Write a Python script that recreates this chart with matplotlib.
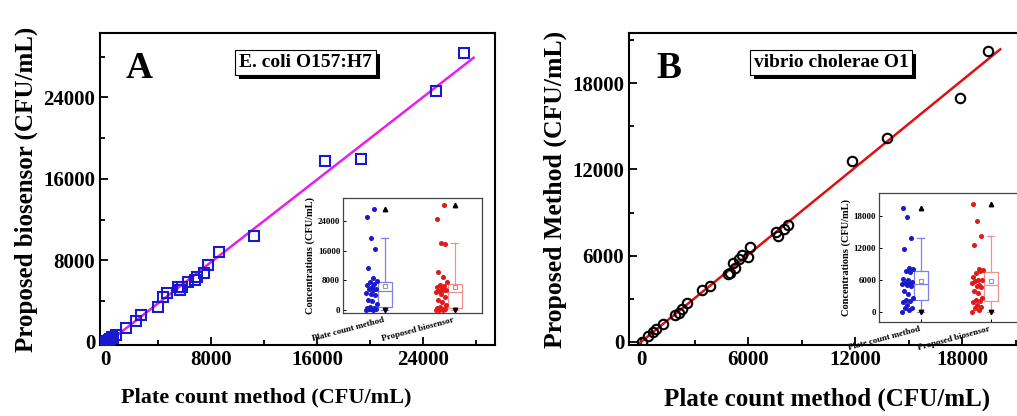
import numpy as np
import matplotlib
matplotlib.use("Agg")
import matplotlib.pyplot as plt
import matplotlib.ticker as mticker
import matplotlib.patheffects as pe

plt.rcParams['font.family'] = ['Liberation Serif', 'DejaVu Serif']
plt.rcParams['font.weight'] = 'bold'

# --- data ---
# Panel A: E. coli O157:H7
plate_a = [0, 120, 230, 300, 400, 500, 600, 830, 1560, 2320, 2740, 4000, 4380, 4650,
           5510, 5660, 5790, 6260, 6790, 6920, 7500, 7800, 8630, 11220, 16580, 19350,
           24950, 27120]
sensor_a = [0, 60, 100, 200, 300, 460, 390, 690, 1410, 2060, 2650, 3470, 4450, 4780,
            5370, 5100, 5430, 5920, 6080, 6410, 6770, 7560, 8830, 10370, 17770, 17960,
            24670, 28340]

# Panel B: vibrio cholerae O1
plate_b = [40, 375, 690, 840, 1250, 1910, 2100, 2280, 2580, 3420, 3870, 4880, 4990,
           5160, 5270, 5480, 5650, 6000, 6110, 7550, 7680, 8000, 8240, 11850, 13810,
           17870, 19440]
sensor_b = [20, 420, 720, 900, 1230, 1880, 2000, 2270, 2690, 3590, 3870, 4730, 4790,
            5490, 5140, 5790, 6050, 5930, 6630, 7650, 7390, 7840, 8140, 12600, 14200,
            16990, 20230]

inset_names = ["Plate count method", "Proposed biosensor"]


def main_panel(ax, x, y, mcolor, marker, lcolor, ticks, xlim, ylim, letter, tag, tag_x,
               ylabel, lab_size, xlab_x):
    x = np.asarray(x, float)
    y = np.asarray(y, float)
    slope, icpt = np.polyfit(x, y, 1)
    xs = np.array([x.min() - 150, x.max() + 700])
    ax.plot(xs, slope * xs + icpt, color=lcolor, lw=1.8, zorder=2)
    ax.plot(x, y, ls='none', marker=marker, ms=6.8, mfc='none', mec=mcolor, mew=1.5, zorder=3)
    ax.set_xlim(*xlim)
    ax.set_ylim(*ylim)
    ax.xaxis.set_major_locator(mticker.FixedLocator(ticks))
    ax.yaxis.set_major_locator(mticker.FixedLocator(ticks))
    step = ticks[1] - ticks[0]
    ax.xaxis.set_minor_locator(mticker.MultipleLocator(step / 2))
    ax.yaxis.set_minor_locator(mticker.MultipleLocator(step / 2))
    ax.tick_params(which='both', direction='in', width=1.3, labelsize=15)
    ax.tick_params(which='major', length=6)
    ax.tick_params(which='minor', length=3.5)
    for s in ax.spines.values():
        s.set_linewidth(1.5)
    ax.set_xlabel("Plate count method (CFU/mL)", fontsize=lab_size[0], fontweight='bold')
    ax.xaxis.set_label_coords(xlab_x, -0.135)
    ax.set_ylabel(ylabel, fontsize=lab_size[1], fontweight='bold', labelpad=4)
    ax.text(0.10, 0.885, letter, transform=ax.transAxes, fontsize=27,
            fontweight='bold', ha='center', va='center')
    t = ax.text(tag_x, 0.905, tag, transform=ax.transAxes, fontsize=14,
                fontweight='bold', ha='center', va='center',
                bbox=dict(boxstyle='square,pad=0.2', fc='white', ec='black', lw=0.8))
    t.get_bbox_patch().set_path_effects([
        pe.SimplePatchShadow(offset=(3, -3), shadow_rgbFace='black', alpha=1.0),
        pe.Normal()])


def inset_panel(ax, x, y, ticks, ylim):
    groups = [np.asarray(x, float), np.asarray(y, float)]
    colors = [('#1a1acc', '#8080e6'), ('#e01a1a', '#f09090')]
    for i, (vals, (dc, bc)) in enumerate(zip(groups, colors)):
        pos = i + 1
        n = len(vals)
        jit = -0.27 + 0.16 * ((np.arange(n) * 0.618) % 1.0)
        ax.plot(pos + jit, vals, ls='none', marker='o', ms=2.6, color=dc, zorder=3)
        ax.boxplot(vals, positions=[pos], widths=0.2, whis=1.75, showfliers=False,
                   patch_artist=False,
                   boxprops=dict(color=bc, lw=0.9),
                   medianprops=dict(color=bc, lw=0.9),
                   whiskerprops=dict(color=bc, lw=0.9),
                   capprops=dict(color=bc, lw=0.9))
        ax.plot(pos, vals.mean(), ls='none', marker='s', ms=3, mfc='none', mec='#999999', mew=0.8)
        ax.plot(pos, vals.max(), ls='none', marker='^', ms=3.2, color='black')
        ax.plot(pos, vals.min(), ls='none', marker='v', ms=3.2, color='black')
    ax.set_xlim(0.4, 2.39)
    ax.set_ylim(*ylim)
    ax.set_xticks([1, 2])
    ax.set_xticklabels(inset_names, rotation=15, ha='right', fontsize=5, fontweight='bold')
    ax.yaxis.set_major_locator(mticker.FixedLocator(ticks))
    ax.tick_params(direction='in', length=2.5, width=0.7, labelsize=6.5, pad=2)
    ax.set_ylabel("Concentrations (CFU/mL)", fontsize=7.5, fontweight='bold', labelpad=2)
    for s in ax.spines.values():
        s.set_linewidth(0.9)
        s.set_color('#444444')


fig = plt.figure(figsize=(10.17, 4.16), dpi=100)
W, H = 1017.0, 416.0

ax_a = fig.add_axes([100 / W, 1 - 345 / H, 395 / W, 312 / H])
main_panel(ax_a, plate_a, sensor_a, '#1a1acc', 's', '#e620e6',
           [0, 8000, 16000, 24000], (-380, 29430), (-300, 30330),
           'A', 'E. coli O157:H7', 0.52, 'Proposed biosensor (CFU/mL)', (16, 18), 0.42)

ax_b = fig.add_axes([629 / W, 1 - 345 / H, 396 / W, 312 / H])
main_panel(ax_b, plate_b, sensor_b, 'black', 'o', '#e01010',
           [0, 6000, 12000, 18000], (-680, 21530), (-210, 21480),
           'B', 'vibrio cholerae O1', 0.51, 'Proposed Method (CFU/mL)', (18, 18.5), 0.5)

in_a = fig.add_axes([343 / W, 1 - 313 / H, 139 / W, 115 / H])
inset_panel(in_a, plate_a, sensor_a, [0, 8000, 16000, 24000], (-800, 30200))

in_b = fig.add_axes([879 / W, 1 - 322 / H, 139 / W, 129 / H])
inset_panel(in_b, plate_b, sensor_b, [0, 6000, 12000, 18000], (-1875, 22300))

fig.savefig("out.png", dpi=100)
